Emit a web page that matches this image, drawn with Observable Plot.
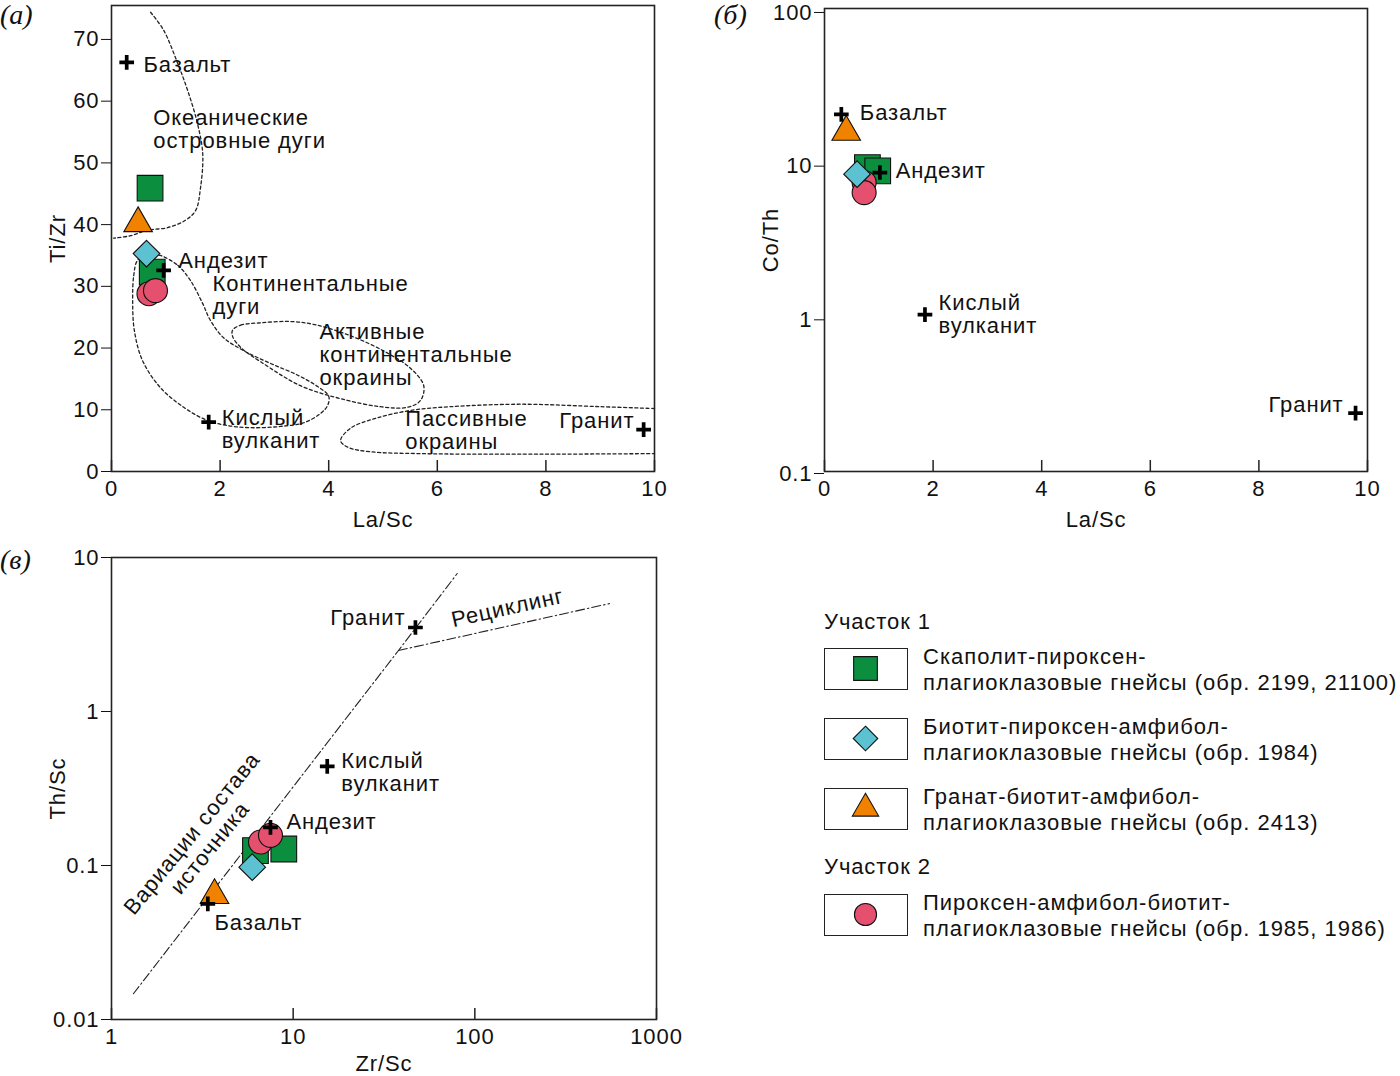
<!DOCTYPE html>
<html><head><meta charset="utf-8">
<script src="https://cdn.jsdelivr.net/npm/d3@7"></script>
<script src="https://cdn.jsdelivr.net/npm/@observablehq/plot@0.6"></script>
<style>
body{margin:0;background:#fff;font-family:"Liberation Sans",Arial,sans-serif;}
#root{position:relative;width:1400px;height:1076px;overflow:hidden;background:#fff;}
.pan{position:absolute;}
.pan svg{overflow:visible;}
.tag{position:absolute;font-family:"Liberation Serif","DejaVu Serif",serif;font-style:italic;font-size:28px;line-height:30px;color:#111;}
.leg-head{position:absolute;font-size:22px;letter-spacing:0.9px;line-height:26px;color:#111;}
.leg-box{position:absolute;box-sizing:border-box;width:84px;height:42px;border:1.5px solid #222;}
.leg-text{position:absolute;font-size:22px;letter-spacing:1px;line-height:26px;color:#111;white-space:nowrap;}
</style></head>
<body><div id="root"></div>
<script>
// ---------- Panel (а): Ti/Zr vs La/Sc ----------
const aXTicks = [0, 2, 4, 6, 8, 10];
const aYTicks = [0, 10, 20, 30, 40, 50, 60, 70];
const refNames = ["Базальт", "Андезит", "Кислый вулканит", "Гранит"];
const aRefX = [0.28, 0.96, 1.79, 9.80];
const aRefY = [66.3, 32.6, 8.0, 6.8];
const sampleKinds = ["square", "square", "diamond", "triangle", "circle", "circle"];
const aSampleX = [0.71, 0.75, 0.645, 0.49, 0.69, 0.81];
const aSampleY = [45.9, 32.3, 35.3, 40.2, 28.8, 29.3];
// field boundaries (dotted)
const aOceanX = [0.72, 0.96, 1.22, 1.40, 1.58, 1.68, 1.64, 1.55, 1.36, 1.03, 0.66, 0.35, 0.04];
const aOceanY = [74.4, 71.5, 66.1, 61.8, 56.5, 51.5, 46.0, 42.3, 40.7, 39.5, 39.1, 38.2, 37.8];
const aContX = [0.90, 1.22, 1.45, 1.68, 1.82, 2.06, 2.43, 2.93, 3.43, 3.79, 4.00, 3.98, 3.85, 3.54, 3.11, 2.56, 2.10, 1.73, 1.33, 0.90, 0.57, 0.42, 0.39, 0.41, 0.48, 0.68];
const aContY = [35.0, 33.4, 31.0, 27.2, 24.5, 21.7, 19.6, 17.5, 15.6, 13.8, 12.2, 10.7, 9.4, 7.9, 7.3, 7.1, 7.5, 8.4, 10.4, 13.6, 18.0, 22.9, 27.7, 31.8, 34.2, 35.2];
const aActX = [2.23, 2.38, 2.76, 3.30, 3.74, 4.40, 5.06, 5.51, 5.75, 5.69, 5.45, 4.95, 4.22, 3.48, 2.76, 2.38, 2.23];
const aActY = [22.9, 23.7, 24.1, 24.3, 23.8, 22.0, 19.3, 16.7, 13.9, 11.5, 10.4, 10.5, 11.8, 13.9, 17.7, 20.1, 21.9];
const aPassX = [10.0, 9.01, 7.53, 6.24, 5.51, 4.86, 4.40, 4.22, 4.36, 4.77, 5.69, 7.53, 10.0];
const aPassY = [10.2, 10.5, 10.9, 10.5, 9.9, 8.6, 7.0, 5.0, 3.9, 3.2, 2.9, 2.8, 2.9];
const aLabels = ["Базальт", "Океанические\nостровные дуги", "Андезит", "Континентальные\nдуги", "Активные\nконтинентальные\nокраины", "Кислый\nвулканит", "Пассивные\nокраины", "Гранит"];
const aLabelX = [0.59, 0.77, 1.23, 1.86, 3.83, 2.03, 5.41, 9.63];
const aLabelY = [66.0, 55.5, 34.2, 28.6, 19.0, 6.8, 6.7, 8.3];
const aLabelAnchor = ["start", "start", "start", "start", "start", "start", "start", "end"];

// ---------- Panel (б): Co/Th vs La/Sc ----------
const bXTicks = [0, 2, 4, 6, 8, 10];
const bYTicks = [0.1, 1, 10, 100];
const bRefX = [0.31, 1.02, 1.85, 9.78];
const bRefY = [21.1, 8.82, 1.05, 0.24];
const bSampleX = [0.79, 0.98, 0.60, 0.40, 0.73, 0.73];
const bSampleY = [9.5, 9.04, 8.61, 16.2, 7.59, 6.53];
const bLabels = ["Базальт", "Андезит", "Кислый\nвулканит", "Гранит"];
const bLabelX = [0.65, 1.31, 2.10, 9.56];
const bLabelY = [21.6, 9.04, 1.06, 0.272];
const bLabelAnchor = ["start", "start", "start", "end"];

// ---------- Panel (в): Th/Sc vs Zr/Sc ----------
const cXTicks = [1, 10, 100, 1000];
const cYTicks = [0.01, 0.1, 1, 10];
const cRefX = [3.39, 7.5, 15.4, 47.1];
const cRefY = [0.0564, 0.177, 0.44, 3.51];
const cSampleX = [6.20, 8.88, 5.95, 3.69, 6.61, 7.50];
const cSampleY = [0.125, 0.128, 0.0975, 0.0641, 0.142, 0.157];
const cSourceX = [1.32, 38, 80];
const cSourceY = [0.0147, 2.49, 7.87];
const cRecycX = [38, 551];
const cRecycY = [2.49, 5.02];
const cLabels = ["Базальт", "Андезит", "Кислый\nвулканит", "Гранит"];
const cLabelX = [3.69, 9.18, 18.4, 41.5];
const cLabelY = [0.0426, 0.193, 0.402, 4.08];
const cLabelAnchor = ["start", "start", "start", "end"];
const cRotLabels = ["Рециклинг", "Вариации состава\nисточника"];
const cRotX = [151, 3.1];
const cRotY = [4.73, 0.145];
const cRotAngle = [-12.5, -51];

// ---------- Legend ----------
const legendHeads = ["Участок 1", "Участок 2"];
const legendKinds = ["square", "diamond", "triangle", "circle"];
const legendTexts = [
  "Скаполит-пироксен-\nплагиоклазовые гнейсы (обр. 2199, 21100)",
  "Биотит-пироксен-амфибол-\nплагиоклазовые гнейсы (обр. 1984)",
  "Гранат-биотит-амфибол-\nплагиоклазовые гнейсы (обр. 2413)",
  "Пироксен-амфибол-биотит-\nплагиоклазовые гнейсы (обр. 1985, 1986)"
];

// ---------- styles ----------
const STYLE = {
  square:   {symbol: "square",   r: 14.5, fill: "#0b8f3f"},
  diamond:  {symbol: "diamond2", r: 12.0, fill: "#5cc2d2"},
  triangle: {symbol: "triangle", r: 10.6, fill: "#f08200"},
  circle:   {symbol: "circle",   r: 12.0, fill: "#e4506d"}
};
const FONT = '"Liberation Sans", Arial, sans-serif';
const FS = 22;
const zip = (xs, ys, extra = {}) => xs.map((x, i) => {
  const o = {x, y: ys[i]};
  for (const k in extra) o[k] = extra[k][i];
  return o;
});

function sampleMarks(rows) {
  const order = ["square", "circle", "diamond", "triangle"];
  return order.map(k => Plot.dot(rows.filter(d => d.kind === k), {
    x: "x", y: "y", symbol: STYLE[k].symbol, r: STYLE[k].r,
    fill: STYLE[k].fill, stroke: "#111", strokeWidth: 1.1
  }));
}
function refMarks(xs, ys) {
  return Plot.dot(zip(xs, ys, {name: refNames}), {x: "x", y: "y", symbol: "plus", r: 4.8, stroke: "#000", strokeWidth: 3.7});
}
function labelMarks(texts, xs, ys, anchors) {
  const rows = zip(xs, ys, {text: texts, anchor: anchors});
  return ["start", "end"].map(a => Plot.text(rows.filter(d => d.anchor === a), {
    x: "x", y: "y", text: "text", textAnchor: a, lineAnchor: "middle",
    fontSize: FS, lineHeight: 1.05, fill: "#111"
  }));
}
function frameAndAxes(opts) {
  const plotH = opts.height - opts.marginTop - opts.marginBottom;
  return [
    Plot.axisY({ticks: opts.yTicks, tickSize: 10, tickPadding: 2, tickFormat: d => String(d), fontSize: FS,
      dy: opts.yDy || 0,
      label: opts.yLabel, labelAnchor: "center", labelOffset: 62, labelArrow: "none"}),
    Plot.axisX({ticks: opts.xTicks, tickSize: 0, tickPadding: 9, tickFormat: d => String(d), fontSize: FS,
      label: opts.xLabel, labelAnchor: "center", labelOffset: opts.xLabelOffset, labelArrow: "none"}),
    Plot.ruleX(opts.xTicks, {x: d => d, insetTop: plotH - 11, stroke: "#222", strokeWidth: 1.5}),
    Plot.frame({stroke: "#222", strokeWidth: 1.6})
  ];
}
function place(el, left, top) {
  const d = document.createElement("div");
  d.className = "pan"; d.style.left = left + "px"; d.style.top = top + "px";
  d.appendChild(el);
  document.getElementById("root").appendChild(d);
}
const dotted = {stroke: "#222", strokeWidth: 1.3, strokeDasharray: "3,2.6"};
const plotStyle = {fontFamily: FONT, fontSize: FS + "px", letterSpacing: "0.9px", background: "transparent", color: "#111"};

// Panel (а)
{
  const dims = {width: 670, height: 540, marginLeft: 111, marginRight: 16, marginTop: 5, marginBottom: 69};
  const rows = zip(aSampleX, aSampleY, {kind: sampleKinds});
  const chart = Plot.plot({
    ...dims,
    style: plotStyle,
    x: {domain: [0, 10]},
    y: {domain: [0, 75.5]},
    marks: [
      ...frameAndAxes({...dims, xTicks: aXTicks, yTicks: aYTicks, xLabel: "La/Sc", yLabel: "Ti/Zr", xLabelOffset: 55}),
      Plot.line(zip(aOceanX, aOceanY), {x: "x", y: "y", curve: "catmull-rom", ...dotted}),
      Plot.line(zip(aContX, aContY), {x: "x", y: "y", curve: "catmull-rom-closed", ...dotted}),
      Plot.line(zip(aActX, aActY), {x: "x", y: "y", curve: "catmull-rom-closed", ...dotted}),
      Plot.line(zip(aPassX, aPassY), {x: "x", y: "y", curve: "catmull-rom", ...dotted}),
      ...labelMarks(aLabels, aLabelX, aLabelY, aLabelAnchor),
      ...sampleMarks(rows),
      refMarks(aRefX, aRefY)
    ]
  });
  place(chart, 0, 0);
}
// Panel (б)
{
  const dims = {width: 700, height: 540, marginLeft: 124, marginRight: 33, marginTop: 8, marginBottom: 69};
  const rows = zip(bSampleX, bSampleY, {kind: sampleKinds});
  const chart = Plot.plot({
    ...dims,
    style: plotStyle,
    x: {domain: [0, 10]},
    y: {type: "log", domain: [0.1, 103]},
    marks: [
      ...frameAndAxes({...dims, xTicks: bXTicks, yTicks: bYTicks, xLabel: "La/Sc", yLabel: "Co/Th", xLabelOffset: 55, yDy: 2}),
      ...labelMarks(bLabels, bLabelX, bLabelY, bLabelAnchor),
      ...sampleMarks(rows),
      refMarks(bRefX, bRefY)
    ]
  });
  place(chart, 700, 0);
}
// Panel (в)
{
  const dims = {width: 670, height: 536, marginLeft: 111, marginRight: 14, marginTop: 17, marginBottom: 57};
  const rows = zip(cSampleX, cSampleY, {kind: sampleKinds});
  const dashdot = {stroke: "#222", strokeWidth: 1.1, strokeDasharray: "9,3,1.5,3"};
  const chart = Plot.plot({
    ...dims,
    style: plotStyle,
    x: {type: "log", domain: [1, 1000]},
    y: {type: "log", domain: [0.01, 10]},
    marks: [
      ...frameAndAxes({...dims, xTicks: cXTicks, yTicks: cYTicks, xLabel: "Zr/Sc", yLabel: "Th/Sc", xLabelOffset: 51}),
      Plot.line(zip(cSourceX, cSourceY), {x: "x", y: "y", ...dashdot}),
      Plot.line(zip(cRecycX, cRecycY), {x: "x", y: "y", ...dashdot}),
      ...labelMarks(cLabels, cLabelX, cLabelY, cLabelAnchor),
      ...zip(cRotX, cRotY, {text: cRotLabels, rot: cRotAngle}).map(d => Plot.text([d], {
        x: "x", y: "y", text: "text", rotate: d.rot, textAnchor: "middle", lineAnchor: "middle",
        fontSize: FS, lineHeight: 1.05, fill: "#111"
      })),
      ...sampleMarks(rows),
      refMarks(cRefX, cRefY)
    ]
  });
  place(chart, 0, 540);
}

// Panel tags
const root = document.getElementById("root");
[["(а)", 0, 0], ["(б)", 714, 0], ["(в)", 0, 545]].forEach(([t, l, tp]) => {
  const d = document.createElement("div");
  d.className = "tag"; d.textContent = t; d.style.left = l + "px"; d.style.top = tp + "px";
  root.appendChild(d);
});

// Legend
{
  const headTops = [609, 854];
  legendHeads.forEach((h, i) => {
    const d = document.createElement("div");
    d.className = "leg-head"; d.textContent = h;
    d.style.left = "824px"; d.style.top = headTops[i] + "px";
    root.appendChild(d);
  });
  const boxTops = [648, 718, 788, 894];
  legendKinds.forEach((k, i) => {
    const box = document.createElement("div");
    box.className = "leg-box";
    box.style.left = "824px"; box.style.top = boxTops[i] + "px";
    const s = STYLE[k];
    const symMap = {square: d3.symbolSquare, diamond2: d3.symbolDiamond2, triangle: d3.symbolTriangle, circle: d3.symbolCircle};
    const svg = d3.create("svg").attr("width", 81).attr("height", 39).style("position", "absolute").style("left", "0").style("top", "0");
    svg.append("path")
      .attr("transform", "translate(40.5,19.5)")
      .attr("d", d3.symbol(symMap[s.symbol], s.r * s.r * Math.PI * 0.85)())
      .attr("fill", s.fill).attr("stroke", "#111").attr("stroke-width", 1.1);
    box.appendChild(svg.node());
    root.appendChild(box);
    const t = document.createElement("div");
    t.className = "leg-text";
    t.style.left = "923px"; t.style.top = (boxTops[i] - 4) + "px";
    t.innerHTML = legendTexts[i].split("\n").join("<br>");
    root.appendChild(t);
  });
}
</script>
</body></html>
